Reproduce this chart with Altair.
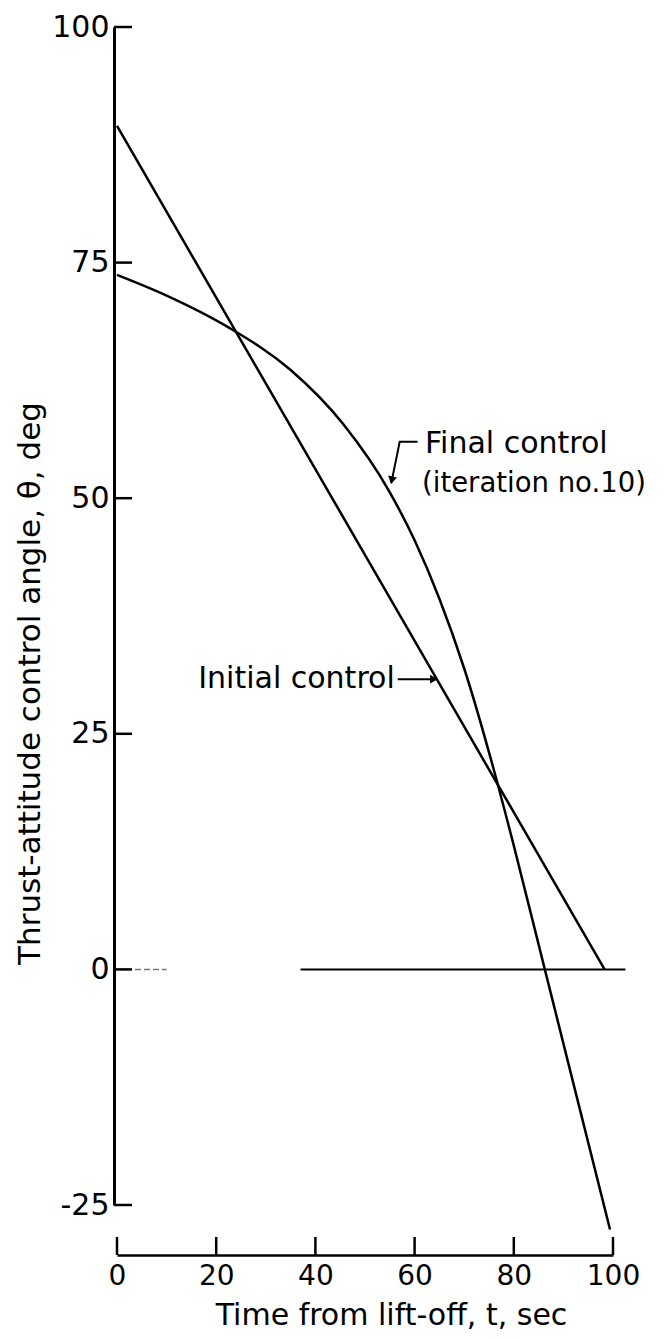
import altair as alt
import pandas as pd

# ---- data ----
final_t = [0, 10, 22.4, 34.9, 45.6, 55, 60, 65, 70, 76, 80, 86, 91, 95.5, 99.4]
final_theta = [73.7, 71.5, 68.15, 63.65, 57.87, 50.63, 45.53, 39.33, 31.93, 21.13, 13.13, 0.53, -9.97, -19.42, -27.6]

initial_t = [0, 98.3]
initial_theta = [89.5, 0.0]

x_ticks = [0, 20, 40, 60, 80, 100]
y_ticks = [-25, 0, 25, 50, 75, 100]

zero_faint = [0, 10]
zero_solid = [37, 102.5]

# annotations
ann_text = ["Final control", "(iteration no.10)", "Initial control"]
ann_t = [62.1, 61.5, 56.0]
ann_theta = [55.7, 51.5, 30.8]
ann_align = ["left", "left", "right"]
ann_size = [30, 27.5, 30]

final_leader_t = [60.6, 57.0, 55.3]
final_leader_theta = [56.0, 56.0, 51.6]
initial_leader_t = [56.6, 63.6]
initial_leader_theta = [30.8, 30.8]
arrow_t = [55.4, 63.9]
arrow_theta = [51.9, 30.8]
arrow_angle = [12, 0]
arrow_shape = ["triangle-down", "triangle-right"]

W, H = 496, 1178
FONT = "DejaVu Sans"

xs = alt.Scale(domain=[0, 100], nice=False, zero=False)
ys = alt.Scale(domain=[-25, 100], nice=False, zero=False)

final_df = pd.DataFrame({"t": final_t, "theta": final_theta})
init_df = pd.DataFrame({"t": initial_t, "theta": initial_theta})

x_axis = alt.Axis(
    values=x_ticks, offset=50, tickSize=0, domainWidth=2.5, domainColor="black",
    labelFontSize=28, labelFont=FONT, labelColor="black", labelPadding=7,
    labelFlush=False, labelExpr="'' + datum.value",
    title="Time from lift-off, t, sec", titleFont=FONT, titleFontSize=30,
    titleFontWeight="normal", titleColor="black", titleX=274, titlePadding=10,
    grid=False,
)
y_axis = alt.Axis(
    values=y_ticks, offset=3, tickSize=0, domainWidth=3, domainColor="black",
    labelFontSize=30, labelFont=FONT, labelColor="black", labelPadding=5,
    labelFlush=False, labelExpr="'' + datum.value",
    title="Thrust-attitude control angle, θ, deg", titleFont=FONT, titleFontSize=31,
    titleFontWeight="normal", titleColor="black", titleX=-84, titleY=656,
    titleAngle=-90, titleBaseline="middle", grid=False,
)

final_line = alt.Chart(final_df).mark_line(
    color="black", strokeWidth=2.5, interpolate="monotone"
).encode(
    x=alt.X("t:Q", scale=xs, axis=x_axis),
    y=alt.Y("theta:Q", scale=ys, axis=y_axis),
)

init_line = alt.Chart(init_df).mark_line(color="black", strokeWidth=2.5).encode(
    x=alt.X("t:Q", scale=xs), y=alt.Y("theta:Q", scale=ys)
)

zero1 = alt.Chart(pd.DataFrame({"a": [zero_faint[0]], "b": [zero_faint[1]], "y": [0]})).mark_rule(
    color="#777", strokeWidth=1.5, strokeDash=[6, 3]
).encode(x=alt.X("a:Q", scale=xs), x2="b:Q", y=alt.Y("y:Q", scale=ys))

zero2 = alt.Chart(pd.DataFrame({"a": [zero_solid[0]], "b": [zero_solid[1]], "y": [0]})).mark_rule(
    color="black", strokeWidth=2
).encode(x=alt.X("a:Q", scale=xs), x2="b:Q", y=alt.Y("y:Q", scale=ys))

yt = alt.Chart(pd.DataFrame({"v": y_ticks})).mark_rule(color="black", strokeWidth=2.5).encode(
    y=alt.Y("v:Q", scale=ys), x=alt.value(-3), x2=alt.value(15)
)

xt = alt.Chart(pd.DataFrame({"v": x_ticks})).mark_rule(color="black", strokeWidth=2.5).encode(
    x=alt.X("v:Q", scale=xs), y=alt.value(H + 32), y2=alt.value(H + 50)
)

ann_df = pd.DataFrame({"text": ann_text, "t": ann_t, "theta": ann_theta,
                       "align": ann_align, "fs": ann_size})
texts = []
for al in ["left", "right"]:
    texts.append(
        alt.Chart(ann_df[ann_df["align"] == al]).mark_text(
            align=al, baseline="middle", font=FONT, color="black"
        ).encode(
            x=alt.X("t:Q", scale=xs), y=alt.Y("theta:Q", scale=ys), text="text:N",
            size=alt.Size("fs:Q", scale=None, legend=None),
        )
    )

fl_df = pd.DataFrame({"t": final_leader_t, "theta": final_leader_theta, "o": [0, 1, 2]})
final_leader = alt.Chart(fl_df).mark_line(color="black", strokeWidth=2).encode(
    x=alt.X("t:Q", scale=xs), y=alt.Y("theta:Q", scale=ys), order="o:Q"
)
il_df = pd.DataFrame({"t": initial_leader_t, "theta": initial_leader_theta})
init_leader = alt.Chart(il_df).mark_line(color="black", strokeWidth=2).encode(
    x=alt.X("t:Q", scale=xs), y=alt.Y("theta:Q", scale=ys)
)

arrows = []
for i in range(2):
    arrows.append(
        alt.Chart(pd.DataFrame({"t": [arrow_t[i]], "theta": [arrow_theta[i]]})).mark_point(
            shape=arrow_shape[i], filled=True, color="black", size=80, angle=arrow_angle[i], opacity=1
        ).encode(x=alt.X("t:Q", scale=xs), y=alt.Y("theta:Q", scale=ys))
    )

chart = alt.layer(
    final_line, init_line, zero1, zero2, yt, xt, *texts, final_leader, init_leader, *arrows
).properties(
    width=W, height=H,
    autosize=alt.AutoSizeParams(type="none"),
    padding={"left": 109, "top": 19, "right": 50, "bottom": 130},
).configure(background="white").configure_view(strokeWidth=0, stroke=None)

chart.save("out.html", embed_options={"renderer": "svg", "actions": False})
